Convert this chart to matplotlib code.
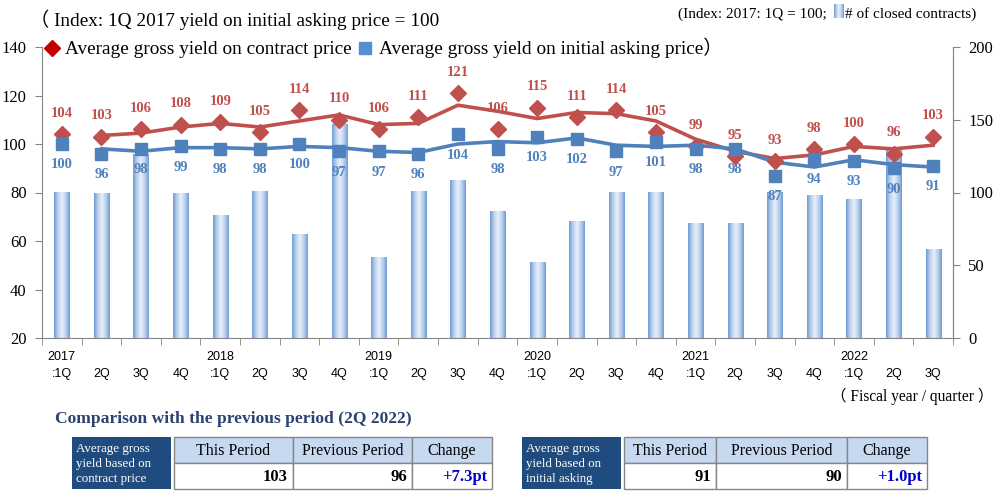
import numpy as np
import matplotlib.pyplot as plt
from matplotlib.colors import LinearSegmentedColormap
from matplotlib.lines import Line2D
from matplotlib.patches import Rectangle

SERIF = ['Liberation Serif', 'Noto Sans CJK JP']
SANS = ['Liberation Sans', 'DejaVu Sans']

# data (2017 1Q .. 2022 3Q)
periods = ['2017:1Q', '2Q', '3Q', '4Q', '2018:1Q', '2Q', '3Q', '4Q',
           '2019:1Q', '2Q', '3Q', '4Q', '2020:1Q', '2Q', '3Q', '4Q',
           '2021:1Q', '2Q', '3Q', '4Q', '2022:1Q', '2Q', '3Q']
contract_yield = [104, 103, 106, 108, 109, 105, 114, 110, 106, 111, 121, 106,
                  115, 111, 114, 105, 99, 95, 93, 98, 100, 96, 103]
asking_yield = [100, 96, 98, 99, 98, 98, 100, 97, 97, 96, 104, 98,
                103, 102, 97, 101, 98, 98, 87, 94, 93, 90, 91]
contracts = [100, 99, 126, 99, 84, 101, 71, 147, 55, 101, 108, 87,
             52, 80, 100, 100, 79, 79, 100, 98, 95, 129, 61]

table_headers = ['This Period', 'Previous Period', 'Change']
contract_row = ['103', '96', '+7.3pt']
asking_row = ['91', '90', '+1.0pt']

RED = '#C0504D'
BLUE = '#4F81BD'
GRAY = '#868686'

tick_labels = []
for p in periods:
    if ':' in p:
        y, q = p.split(':')
        tick_labels.append(y + '\n:' + q)
    else:
        tick_labels.append('\n' + p)

x = np.arange(len(periods))
# Excel style 2-period moving average trend lines
ma_contract = (np.array(contract_yield[1:]) + np.array(contract_yield[:-1])) / 2
ma_asking = (np.array(asking_yield[1:]) + np.array(asking_yield[:-1])) / 2

W, H = 1000, 495
fig = plt.figure(figsize=(10, 4.95), dpi=100)


def fx(px):
    return px / W


def fy(py):
    return 1 - py / H


ax = fig.add_axes([fx(42), fy(338), fx(953) - fx(42), fy(47) - fy(338)])
axl = ax.twinx()

# bars with horizontal gradient (right axis)
bar_cmap = LinearSegmentedColormap.from_list('bar', ['#E6EEF9', '#BBD0EC', '#6F9BD6'])
grad = np.abs(np.linspace(-1, 1, 64))[None, :]
bars = ax.bar(x, contracts, width=0.38, color='none', linewidth=0)
for b in bars:
    ax.imshow(grad, cmap=bar_cmap, aspect='auto', zorder=1,
              extent=(b.get_x(), b.get_x() + b.get_width(), 0, b.get_height()))
ax.set_xlim(-0.5, len(periods) - 0.5)
ax.set_ylim(0, 200)
ax.set_yticks([0, 50, 100, 150, 200])
ax.yaxis.tick_right()

# lines and markers (left axis)
axl.yaxis.tick_left()
axl.plot(x[1:], ma_contract, color=RED, lw=2.6, zorder=3)
axl.plot(x[1:], ma_asking, color=BLUE, lw=2.6, zorder=3)
axl.plot(x, contract_yield, linestyle='none', marker='D', ms=8, color=RED, zorder=4)
axl.plot(x, asking_yield, linestyle='none', marker='s', ms=8, color=BLUE, zorder=4)
for xi, v in zip(x, contract_yield):
    axl.annotate(str(v), (xi, v), xytext=(0, 15), textcoords='offset points',
                 ha='center', va='center', color=RED, fontsize=10.5,
                 fontweight='bold', family=SERIF)
for xi, v in zip(x, asking_yield):
    axl.annotate(str(v), (xi, v), xytext=(0, -15), textcoords='offset points',
                 ha='center', va='center', color=BLUE, fontsize=10.5,
                 fontweight='bold', family=SERIF)
axl.set_ylim(20, 140)
axl.set_yticks(range(20, 141, 20))
axl.set_xlim(-0.5, len(periods) - 0.5)

for a in (ax, axl):
    a.spines['top'].set_visible(False)
    for s in ('left', 'right', 'bottom'):
        a.spines[s].set_color(GRAY)
ax.spines['left'].set_visible(False)
axl.spines['bottom'].set_visible(False)

ax.tick_params(axis='y', direction='out', length=5, color=GRAY, pad=6, labelsize=12)
axl.tick_params(axis='y', direction='out', length=5, color=GRAY, pad=6, labelsize=12)
for lab in ax.get_yticklabels() + axl.get_yticklabels():
    lab.set_family(SERIF)

ax.set_xticks(x)
ax.set_xticklabels(tick_labels, fontsize=9, family=SANS, linespacing=1.6)
ax.set_xticks(np.arange(-0.5, len(periods), 1), minor=True)
ax.tick_params(axis='x', which='major', length=0, pad=9)
ax.tick_params(axis='x', which='minor', length=5, color=GRAY, direction='out')
axl.tick_params(axis='x', which='both', bottom=False, labelbottom=False)

# titles / legend
fig.text(fx(30), fy(20), '（ Index: 1Q 2017 yield on initial asking price = 100',
         fontsize=13.9, va='center', family=SERIF)
handles = [Line2D([], [], marker='D', color='#C00000', ls='none', ms=8.5),
           Line2D([], [], marker='s', color='#558ED5', ls='none', ms=8.5)]
fig.legend(handles, ['Average gross yield on contract price',
                     'Average gross yield on initial asking price）'],
           loc='center left', bbox_to_anchor=(fx(44), fy(48)), ncol=2,
           frameon=False, handlelength=0.8, handletextpad=0.3, columnspacing=0.3,
           borderpad=0, borderaxespad=0, prop={'family': SERIF, 'size': 13.9})

fig.canvas.draw()
renderer = fig.canvas.get_renderer()
t_right = fig.text(fx(976), fy(14), '# of closed contracts)', ha='right', va='center',
                   fontsize=11, family=SERIF)
bb = t_right.get_window_extent(renderer)
icon_x1 = bb.x0 - 1
icon_x0 = icon_x1 - 10
iax = fig.add_axes([icon_x0 / W, fy(18), 10 / W, 14 / H])
iax.imshow(grad, cmap=bar_cmap, aspect='auto')
iax.axis('off')
fig.text((icon_x0 - 7) / W, fy(14), '(Index: 2017: 1Q = 100;', ha='right', va='center',
         fontsize=11, family=SERIF)

fig.text(fx(993), fy(396), '（ Fiscal year / quarter ）', ha='right', va='center',
         fontsize=11.2, family=SERIF)

fig.text(fx(55), fy(419), 'Comparison with the previous period (2Q 2022)',
         va='center', fontsize=12.6, fontweight='bold', color='#2B4272', family=SERIF)


def rect(x0, y0, x1, y1, fc, ec='none', lw=0):
    fig.add_artist(Rectangle((fx(x0), fy(y1)), fx(x1) - fx(x0), fy(y0) - fy(y1),
                             transform=fig.transFigure, facecolor=fc, edgecolor=ec, lw=lw))


def draw_table(dark, cols, dark_text, row):
    top, mid, bot = 437, 463, 489
    rect(dark[0], top, dark[1], bot, '#1F4B7E')
    fig.text(fx(dark[0] + 4), fy(mid + 1), dark_text, color='white', fontsize=9.4,
             va='center', ha='left', linespacing=1.35, family=SERIF)
    for i in range(3):
        rect(cols[i], top, cols[i + 1], mid, '#C6D9F1', GRAY, 1)
        rect(cols[i], mid, cols[i + 1], bot, 'white', GRAY, 1)
        fig.text(fx((cols[i] + cols[i + 1]) / 2), fy((top + mid) / 2 + 1), table_headers[i],
                 ha='center', va='center', fontsize=11.5, family=SERIF)
        fig.text(fx(cols[i + 1] - 5), fy((mid + bot) / 2 + 1), row[i], ha='right',
                 va='center', fontsize=12, fontweight='bold', family=SERIF,
                 color='#0000CC' if i == 2 else 'black')


draw_table((72, 171), [174, 293, 412, 492],
           'Average gross\nyield based on\ncontract price', contract_row)
draw_table((522, 621), [624, 716, 847, 927],
           'Average gross\nyield based on\ninitial asking', asking_row)

fig.savefig('out.png', dpi=100)
